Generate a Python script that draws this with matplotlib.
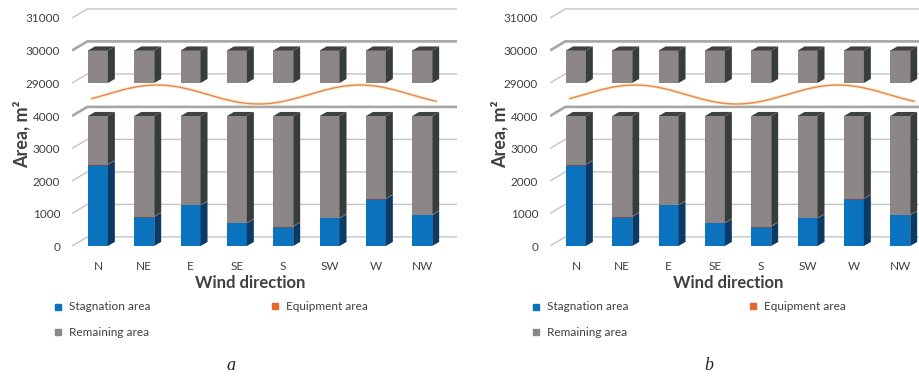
import numpy as np
import matplotlib.pyplot as plt
from matplotlib.patches import Polygon, Rectangle
from matplotlib.lines import Line2D

plt.rcParams['font.family'] = ['Lato', 'DejaVu Sans']

# wind directions and areas, m2
directions = ['N', 'NE', 'E', 'SE', 'S', 'SW', 'W', 'NW']
stagnation = [2500, 900, 1250, 700, 600, 850, 1450, 950]
equipment = [15, 15, 15, 15, 15, 15, 15, 15]
total_area = 30000
remaining = [total_area - s - e for s, e in zip(stagnation, equipment)]

lower_ticks = [0, 1000, 2000, 3000, 4000]
upper_ticks = [29000, 30000, 31000]
panel_names = ['a', 'b']

W, H = 919, 376
fig = plt.figure(figsize=(W / 100, H / 100), dpi=100)

# colours: front, side, top
BLUE = ('#0b72bd', '#0c3a66', '#0c3a66')
ORANGE = ('#e8652b', '#9c3b12', '#9c3b12')
GREY = ('#8c8686', '#373c3c', '#404242')
GRID = '#c4c4c4'
TXT = '#404040'

# 3d geometry (data units)
BAR_W = 0.43
SIDE_DX, SIDE_DY = 0.15, 125
WALL_DX, WALL_DY = 0.33, 280
X_LEFT, X_RIGHT = -0.56, 7.75
PX_PER_UNIT = 32.5 / 1000


def fig_box(x0, y0, x1, y1):
    return [x0 / W, 1 - y1 / H, (x1 - x0) / W, (y1 - y0) / H]


def draw_walls(ax, ticks, heavy=()):
    for t in ticks:
        lw, col = (1.9, '#a6a6a6') if t in heavy else (1.0, GRID)
        ax.plot([X_LEFT, X_LEFT + WALL_DX, X_RIGHT],
                [t, t + WALL_DY, t + WALL_DY],
                color=col, lw=lw, zorder=1, solid_capstyle='butt')


def draw_bars(ax, lo, hi):
    x = np.arange(len(directions))
    for i in x:
        segs = [(0, stagnation[i], BLUE),
                (stagnation[i], stagnation[i] + equipment[i], ORANGE),
                (stagnation[i] + equipment[i], total_area, GREY)]
        top, top_col = None, None
        for b, t, cols in segs:
            b, t = max(b, lo), min(t, hi)
            if t <= b:
                continue
            ax.bar(i, t - b, bottom=b, width=BAR_W, color=cols[0],
                   lw=0, zorder=3)
            xr = i + BAR_W / 2
            ax.add_patch(Polygon([(xr, b), (xr + SIDE_DX, b + SIDE_DY),
                                  (xr + SIDE_DX, t + SIDE_DY), (xr, t)],
                                 closed=True, color=cols[1], lw=0, zorder=3))
            top, top_col = t, cols[2]
        if top is not None:
            xl = i - BAR_W / 2
            ax.add_patch(Polygon([(xl, top), (xl + BAR_W, top),
                                  (xl + BAR_W + SIDE_DX, top + SIDE_DY),
                                  (xl + SIDE_DX, top + SIDE_DY)],
                                 closed=True, color=top_col, lw=0, zorder=3))


def style_axis(ax, ticks, ylim):
    ax.set_xlim(X_LEFT, X_RIGHT)
    ax.set_ylim(*ylim)
    ax.set_yticks(ticks)
    ax.set_yticklabels([str(t) for t in ticks], fontsize=8.5, color=TXT)
    ax.tick_params(axis='y', length=0, pad=8.5)
    ax.set_xticks([])
    for s in ax.spines.values():
        s.set_visible(False)
    ax.patch.set_alpha(0)


for k, name in enumerate(panel_names):
    ox = 478 * k

    # lower part of the broken axis: 0..4000
    ax_lo = fig.add_axes(fig_box(72 + ox, 104, 457 + ox, 249))
    lo_ylim = (-3 / PX_PER_UNIT, 142 / PX_PER_UNIT)
    style_axis(ax_lo, lower_ticks, lo_ylim)
    draw_walls(ax_lo, lower_ticks, heavy=(4000,))
    draw_bars(ax_lo, 0, lower_ticks[-1])
    ax_lo.set_xticks(range(len(directions)))
    ax_lo.set_xticklabels(directions, fontsize=8.5, color=TXT)
    ax_lo.tick_params(axis='x', length=0, pad=9)

    # upper part: 29000..31000
    ax_hi = fig.add_axes(fig_box(72 + ox, 4, 457 + ox, 86))
    hi_ylim = (29000 - 3 / PX_PER_UNIT, 29000 + 79 / PX_PER_UNIT)
    style_axis(ax_hi, upper_ticks, hi_ylim)
    draw_walls(ax_hi, upper_ticks, heavy=(30000,))
    draw_bars(ax_hi, upper_ticks[0], upper_ticks[-1])

    # wavy break mark between the two parts
    bx = np.linspace(92, 436, 200)
    by = 94.5 - 9.5 * np.cos(2 * np.pi * (bx - 157) / 203)
    for lw, col, a in [(2.6, '#f8e3a6', 0.6), (1.0, '#e5855a', 1.0)]:
        fig.add_artist(Line2D((bx + ox) / W, 1 - by / H, lw=lw, color=col,
                              alpha=a, transform=fig.transFigure))

    fig.text((21 + ox) / W, 1 - 134 / H, 'Area, m²', rotation=90,
             ha='center', va='center', fontsize=13, fontweight='bold',
             color=TXT)
    fig.text((250 + ox) / W, 1 - 283 / H, 'Wind direction', ha='center',
             va='center', fontsize=12, fontweight='bold', color=TXT)

    # legend
    for lx, ly, label, col in [(58, 307, 'Stagnation area', BLUE[0]),
                               (275, 306, 'Equipment area', ORANGE[0]),
                               (58, 332, 'Remaining area', GREY[0])]:
        fig.add_artist(Rectangle(((lx - 3 + ox) / W, 1 - (ly + 3) / H),
                                 6 / W, 6 / H, color=col,
                                 transform=fig.transFigure))
        fig.text((lx + 11 + ox) / W, 1 - ly / H, label, ha='left',
                 va='center', fontsize=8.5, color=TXT)

    fig.text((231 + ox) / W, 1 - 366 / H, name, ha='center', va='center',
             fontsize=13, style='italic', family='Liberation Serif',
             color='#222222')

fig.savefig('out.png', dpi=100)
